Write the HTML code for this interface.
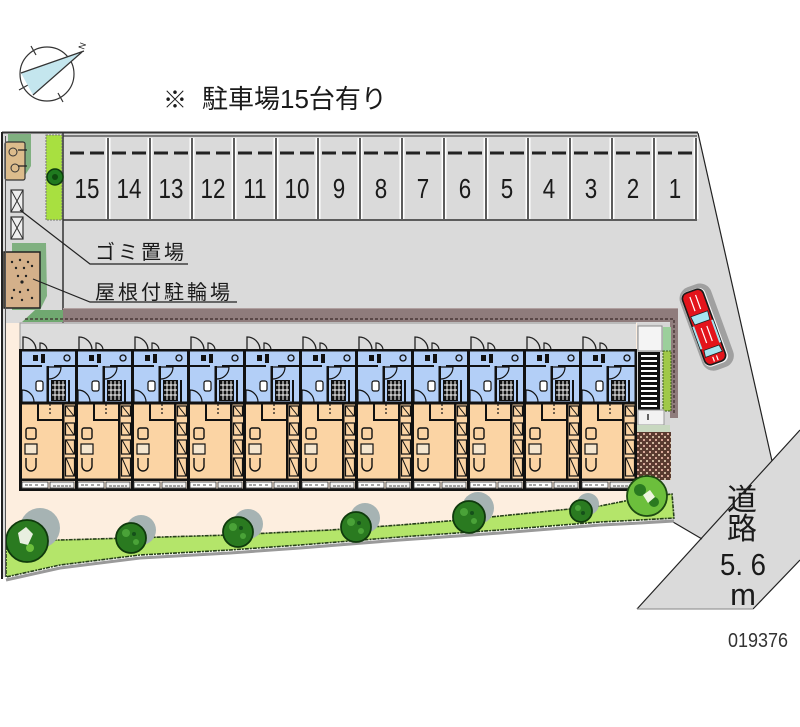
<!DOCTYPE html>
<html><head><meta charset="utf-8">
<style>
html,body{margin:0;padding:0;background:#fff;}
svg{display:block;}
text{font-family:"Liberation Sans","Noto Sans CJK JP",sans-serif;fill:#1a1a1a;}
</style></head><body>
<svg width="800" height="727" viewBox="0 0 800 727" xmlns="http://www.w3.org/2000/svg">
<defs>
 <pattern id="brick" width="6" height="6" patternUnits="userSpaceOnUse">
   <rect width="6" height="6" fill="#5a3b30"/>
   <rect x="1" y="1" width="2" height="2" fill="#d8a898"/>
   <rect x="4" y="4" width="2" height="2" fill="#cdb69c"/>
 </pattern>
 <g id="unit">
  <rect x="0" y="350" width="56" height="53" fill="#b3cff7"/>
  <rect x="0" y="403" width="56" height="77" fill="#fbd4a4"/>
  <path d="M3,350V337A13,13 0 0 1 16,350" fill="none" stroke="#222" stroke-width="1.3"/>
  <path d="M20,350V343A7,7 0 0 1 27,350" fill="none" stroke="#222" stroke-width="1.2"/>
  <rect x="0" y="349" width="56" height="2.5" fill="#111"/>
  <rect x="0" y="401.5" width="56" height="3" fill="#111"/>
  <rect x="0" y="478.5" width="56" height="2.5" fill="#111"/>
  <rect x="0" y="488.5" width="56" height="2.5" fill="#111"/>
  <rect x="-1" y="349" width="3" height="142" fill="#111"/>
  <path d="M2,366H22M34,366H55" stroke="#111" stroke-width="2"/>
  <rect x="13" y="355" width="5" height="6" fill="#111"/>
  <rect x="21" y="354" width="4" height="9" fill="#111"/>
  <circle cx="47" cy="358" r="3" fill="none" stroke="#111" stroke-width="1.3"/>
  <rect x="26.5" y="366" width="2.5" height="36" fill="#111"/>
  <path d="M29,367H41A12,12 0 0 1 29,379" fill="none" stroke="#111" stroke-width="1.2"/>
  <rect x="31" y="380" width="15" height="21" fill="#111"/>
  <path d="M35,381V400M39,381V400M43,381V400M32,385H45M32,390H45M32,395H45" stroke="#fff" stroke-width="1"/>
  <rect x="16" y="381" width="7" height="10" rx="2" fill="#fff" stroke="#111" stroke-width="1.2"/>
  <rect x="48" y="380" width="2" height="22" fill="#111"/>
  <path d="M2,402V390A12,12 0 0 1 14,402" fill="none" stroke="#111" stroke-width="1.2"/>
  <path d="M18,404V420H43" fill="none" stroke="#111" stroke-width="2"/>
  <rect x="42" y="404" width="2.5" height="75" fill="#111"/>
  <rect x="45.5" y="406" width="9" height="10" fill="#fbd4a4" stroke="#111" stroke-width="1.2"/>
  <rect x="45.5" y="423" width="9" height="12" fill="#fbd4a4" stroke="#111" stroke-width="1.2"/>
  <rect x="45.5" y="440" width="9" height="14" fill="#fbd4a4" stroke="#111" stroke-width="1.2"/>
  <rect x="45.5" y="458" width="9" height="18" fill="#fbd4a4" stroke="#111" stroke-width="1.2"/>
  <path d="M46,423L54,435M46,440L54,454M46,458L54,476M46,406L54,416" stroke="#111" stroke-width="1"/>
  <rect x="6" y="428" width="10" height="11" rx="2" fill="#fbd4a4" stroke="#111" stroke-width="1.4"/>
  <rect x="5" y="444" width="12" height="10" fill="#f5e6cf" stroke="#111" stroke-width="1.2"/>
  <path d="M6,458V466A5,5 0 0 0 16,466V458" fill="none" stroke="#111" stroke-width="1.4"/>
  <path d="M30,404V414" stroke="#111" stroke-width="1.2" stroke-dasharray="2 2"/>
  <rect x="2" y="482" width="26" height="6" fill="#fff" stroke="#333" stroke-width="0.8"/>
  <rect x="30" y="482" width="24" height="6" fill="#f2f2f2" stroke="#333" stroke-width="0.8"/>
  <path d="M5,485H12M15,485H18M21,485H25M33,486H51" stroke="#888" stroke-width="1.5" stroke-dasharray="3 1"/>
 </g>
</defs>

<!-- compass -->
<g stroke="#333" fill="none" stroke-width="1.2">
 <circle cx="47" cy="74" r="27"/>
 <path d="M36,55L31,46M58,93L63,102M28,85L19,90"/>
</g>
<path d="M21,73L82,52L33,95Z" fill="#c4e6ee"/>
<path d="M21,73L84,51M33,95L82,52" stroke="#333" stroke-width="1.2" fill="none"/>
<text x="0" y="0" font-size="9" transform="translate(84,50) rotate(-70)">N</text>

<!-- title -->
<text x="163" y="108" font-size="24">※</text>
<text x="202" y="108" font-size="26">駐車場15台有り</text>

<!-- lot -->
<polygon points="2,133 698,133 772,461 702,539 673,522 640,520 600,522 500,530 400,537 300,545 230,550 140,555 60,565 5,577 2,578" fill="#dadada"/>
<polygon points="800,430 800,560 753,609 637,609" fill="#dadada"/>
<path d="M800,430L637,609M800,560L753,609M698,133L772,461M673,522L702,539" stroke="#222" stroke-width="1.2" fill="none"/>
<path d="M637,609H753" stroke="#999" stroke-width="1.2"/>

<!-- top border & stalls -->
<path d="M2,132.5H698" stroke="#333" stroke-width="2"/>
<path d="M63,136H697" stroke="#444" stroke-width="1.2"/>
<path d="M63,220H697" stroke="#333" stroke-width="1.5"/>
<g id="stalls">
 <path d="M108,138V219M150,138V219M192,138V219M234,138V219M276,138V219M318,138V219M360,138V219M402,138V219M444,138V219M486,138V219M528,138V219M570,138V219M612,138V219M654,138V219M696,138V219" stroke="#fff" stroke-width="5"/>
 <path d="M108,138V219M150,138V219M192,138V219M234,138V219M276,138V219M318,138V219M360,138V219M402,138V219M444,138V219M486,138V219M528,138V219M570,138V219M612,138V219M654,138V219M696,138V219" stroke="#333" stroke-width="1.6"/>
 <path d="M70,153H84M90,153H104M112,153H126M132,153H146M154,153H168M174,153H188M196,153H210M216,153H230M238,153H252M258,153H272M280,153H294M300,153H314M322,153H336M342,153H356M364,153H378M384,153H398M406,153H420M426,153H440M448,153H462M468,153H482M490,153H504M510,153H524M532,153H546M552,153H566M574,153H588M594,153H608M616,153H630M636,153H650M658,153H672M678,153H692" stroke="#222" stroke-width="3"/>
</g>
<g font-size="28" text-anchor="middle">
 <text transform="translate(87,198) scale(0.8,1)">15</text>
 <text transform="translate(129,198) scale(0.8,1)">14</text>
 <text transform="translate(171,198) scale(0.8,1)">13</text>
 <text transform="translate(213,198) scale(0.8,1)">12</text>
 <text transform="translate(255,198) scale(0.8,1)">11</text>
 <text transform="translate(297,198) scale(0.8,1)">10</text>
 <text transform="translate(339,198) scale(0.8,1)">9</text>
 <text transform="translate(381,198) scale(0.8,1)">8</text>
 <text transform="translate(423,198) scale(0.8,1)">7</text>
 <text transform="translate(465,198) scale(0.8,1)">6</text>
 <text transform="translate(507,198) scale(0.8,1)">5</text>
 <text transform="translate(549,198) scale(0.8,1)">4</text>
 <text transform="translate(591,198) scale(0.8,1)">3</text>
 <text transform="translate(633,198) scale(0.8,1)">2</text>
 <text transform="translate(675,198) scale(0.8,1)">1</text>
</g>

<!-- left strip -->
<path d="M63,133V323" stroke="#333" stroke-width="1.5"/>
<rect x="46" y="135" width="16" height="85" fill="#a8e040" stroke="#777" stroke-width="1" stroke-dasharray="2 1"/>
<circle cx="55" cy="177" r="8" fill="#1f7a1f" stroke="#0d3d0d" stroke-width="1.5"/>
<circle cx="55" cy="177" r="3" fill="#0f4a0f"/>
<polygon points="8,134 31,134 31,166 22,180 8,180" fill="#80b080"/>
<rect x="5" y="142" width="20" height="38" rx="2" fill="#dcbc8c" stroke="#333" stroke-width="1.2"/>
<circle cx="13" cy="152" r="4" fill="none" stroke="#333" stroke-width="1"/>
<circle cx="15" cy="168" r="4" fill="none" stroke="#333" stroke-width="1"/>
<path d="M18,150H27M18,166H27" stroke="#222" stroke-width="1.2"/>
<rect x="11" y="190" width="12" height="22" fill="#eee" stroke="#333" stroke-width="1.2"/>
<path d="M11,190L23,212M23,190L11,212" stroke="#333" stroke-width="1"/>
<rect x="11" y="217" width="12" height="22" fill="#eee" stroke="#333" stroke-width="1.2"/>
<path d="M11,217L23,239M23,217L11,239" stroke="#333" stroke-width="1"/>
<polygon points="12,243 46,243 47,296 40,310 12,310" fill="#80b080"/>
<rect x="4" y="252" width="36" height="56" fill="#d4b08a" stroke="#222" stroke-width="1.5"/>
<g fill="#222">
 <circle cx="12" cy="262" r="1.2"/><circle cx="20" cy="260" r="1.2"/><circle cx="28" cy="262" r="1.2"/><circle cx="16" cy="268" r="1.2"/><circle cx="24" cy="268" r="1.2"/><circle cx="32" cy="266" r="1.2"/>
 <circle cx="18" cy="276" r="1.2"/><circle cx="22" cy="282" r="1.6"/><circle cx="26" cy="276" r="1.2"/>
 <circle cx="14" cy="290" r="1.2"/><circle cx="20" cy="292" r="1.2"/><circle cx="28" cy="290" r="1.2"/><circle cx="12" cy="298" r="1.2"/><circle cx="22" cy="300" r="1.2"/><circle cx="32" cy="298" r="1.2"/>
</g>
<path d="M20,210L90,264H188M33,279L90,302H237" stroke="#222" stroke-width="1.2" fill="none"/>
<text x="95" y="259" font-size="20" letter-spacing="3">ゴミ置場</text>
<text x="95" y="299" font-size="20" letter-spacing="3">屋根付駐輪場</text>

<!-- cream -->
<polygon points="6,323 637,323 637,498 600,506 540,512 460,520 400,525 330,530 230,535 130,538 60,540 30,540 6,548" fill="#fdeedf"/>
<polygon points="22,322 35,310 63,310 63,322" fill="#70a870"/>
<!-- brown strip -->
<rect x="63" y="309" width="615" height="13" fill="#8f7c7c"/>
<rect x="670" y="309" width="8" height="109" fill="#8f7c7c"/>
<path d="M25,319H674V415" stroke="#3a2a2a" stroke-width="1.2" stroke-dasharray="3 2" fill="none"/>
<path d="M63,308.5H678" stroke="#b0a0a0" stroke-width="1"/>

<!-- corridor -->
<rect x="20" y="323" width="616" height="27" fill="#dcdcdc"/>
<path d="M20,491V323H636" stroke="#999" stroke-width="1" fill="none"/>

<!-- units -->
<use href="#unit" x="20"/>
<use href="#unit" x="76"/>
<use href="#unit" x="132"/>
<use href="#unit" x="188"/>
<use href="#unit" x="244"/>
<use href="#unit" x="300"/>
<use href="#unit" x="356"/>
<use href="#unit" x="412"/>
<use href="#unit" x="468"/>
<use href="#unit" x="524"/>
<use href="#unit" x="580"/>
<rect x="634.5" y="349" width="3" height="142" fill="#111"/>

<!-- stair block -->
<rect x="637" y="323" width="33" height="110" fill="#d6d6d6"/>
<rect x="638" y="326" width="24" height="25" fill="#f4f4f4" stroke="#888" stroke-width="1"/>
<rect x="663" y="327" width="8" height="24" fill="#9ccf9c"/>
<rect x="663" y="351" width="8" height="60" fill="#a0c848" stroke="#3a5a1a" stroke-width="1" stroke-dasharray="2 1"/>
<rect x="638" y="352" width="22" height="58" fill="#111"/>
<path d="M641,356H657M641,361H657M641,366H657M641,371H657M641,376H657M641,381H657M641,386H657M641,391H657M641,396H657M641,401H657M641,406H657" stroke="#fff" stroke-width="2"/>
<rect x="638" y="410" width="26" height="15" fill="#f2f2f2" stroke="#999" stroke-width="1"/>
<path d="M648,414V420" stroke="#333" stroke-width="1.5"/>
<rect x="637" y="425" width="33" height="7" fill="#c8d8c0"/>
<rect x="637" y="432" width="34" height="48" fill="url(#brick)"/>

<!-- hedge -->
<polyline points="6,580 60,568 140,558 230,553 300,548 400,540 500,533 600,525 640,523 674,521" fill="none" stroke="#9a9a9a" stroke-width="3"/>
<polygon points="6,548 30,540 60,540 130,538 230,535 330,530 400,525 460,520 540,512 600,506 640,498 672,494 674,518 640,520 600,522 500,530 400,537 300,545 230,550 140,555 60,565 6,577" fill="#b4e56a" stroke="#27401a" stroke-width="1.6" stroke-dasharray="4 1 2 1"/>

<!-- tree shadows -->
<g fill="#a6b3b3">
 <circle cx="40" cy="528" r="20"/>
 <circle cx="141" cy="530" r="15"/>
 <circle cx="248" cy="524" r="15"/>
 <circle cx="365" cy="518" r="15"/>
 <circle cx="478" cy="508" r="16"/>
 <circle cx="588" cy="504" r="11"/>
</g>
<!-- trees -->
<g stroke="#0f3a0c" stroke-width="1.8" fill="#2a7a20">
 <circle cx="27" cy="541" r="21"/>
 <circle cx="131" cy="538" r="15"/>
 <circle cx="238" cy="532" r="15"/>
 <circle cx="356" cy="527" r="15"/>
 <circle cx="469" cy="517" r="16"/>
 <circle cx="581" cy="511" r="11"/>
</g>
<g fill="#4aa238">
 <circle cx="126" cy="533" r="4"/><circle cx="136" cy="542" r="3"/>
 <circle cx="233" cy="527" r="4"/><circle cx="243" cy="536" r="3"/>
 <circle cx="351" cy="522" r="4"/><circle cx="361" cy="531" r="3"/>
 <circle cx="464" cy="512" r="4"/><circle cx="474" cy="521" r="3"/>
 <circle cx="578" cy="508" r="3"/>
</g>
<g fill="#15501a">
 <circle cx="134" cy="534" r="2"/><circle cx="241" cy="528" r="2"/><circle cx="359" cy="523" r="2"/><circle cx="472" cy="513" r="2"/><circle cx="583" cy="513" r="2"/>
</g>
<g fill="#e8efe0">
 <path d="M18,533L26,527L33,534L28,545L20,543Z"/>
</g>
<circle cx="30" cy="548" r="4" fill="#6cbf3c"/>
<circle cx="647" cy="496" r="20" fill="#6cbf3c" stroke="#1d4a12" stroke-width="1.8"/>
<circle cx="640" cy="490" r="6" fill="#2a7a20"/>
<circle cx="654" cy="502" r="5" fill="#2a7a20"/>
<path d="M643,495L650,490L655,497L648,503Z" fill="#eef4e0"/>

<!-- car -->
<g transform="translate(704,327) rotate(-20)">
 <rect x="-14" y="-43" width="33" height="88" rx="12" fill="#a0a0a0"/>
 <rect x="-12" y="-39" width="25" height="79" rx="7" fill="#f4f4f4"/>
 <rect x="-11" y="-38" width="22" height="76" rx="6" fill="#e3141b" stroke="#1a1a1a" stroke-width="1.6"/>
 <path d="M-9,-14L9,-14L8,-5L-8,-5Z" fill="#a6e4f0" stroke="#222" stroke-width="0.8"/>
 <path d="M-8,22L8,22L9,29L-9,29Z" fill="#a6e4f0" stroke="#222" stroke-width="0.8"/>
 <path d="M-10,-4V20M10,-4V20" stroke="#a6e4f0" stroke-width="2"/>
 <path d="M-3,-33V-18M3,-33V-18M-3,0V16M3,0V16M-2,31V36M2,31V36" stroke="#fff" stroke-width="1.2"/>
</g>

<!-- road label -->
<text x="742" y="510" font-size="30" text-anchor="middle">道</text>
<text x="742" y="539" font-size="30" text-anchor="middle">路</text>
<text x="720" y="575" font-size="31" textLength="46" lengthAdjust="spacingAndGlyphs">5. 6</text>
<text x="743" y="605" font-size="31" text-anchor="middle">m</text>

<text x="728" y="647" font-size="20" textLength="60" lengthAdjust="spacingAndGlyphs" style="fill:#333">019376</text>

<!-- left double border -->
<path d="M2,132V579" stroke="#222" stroke-width="2"/>
<path d="M5.5,136V577" stroke="#555" stroke-width="1"/>
</svg>
</body></html>
